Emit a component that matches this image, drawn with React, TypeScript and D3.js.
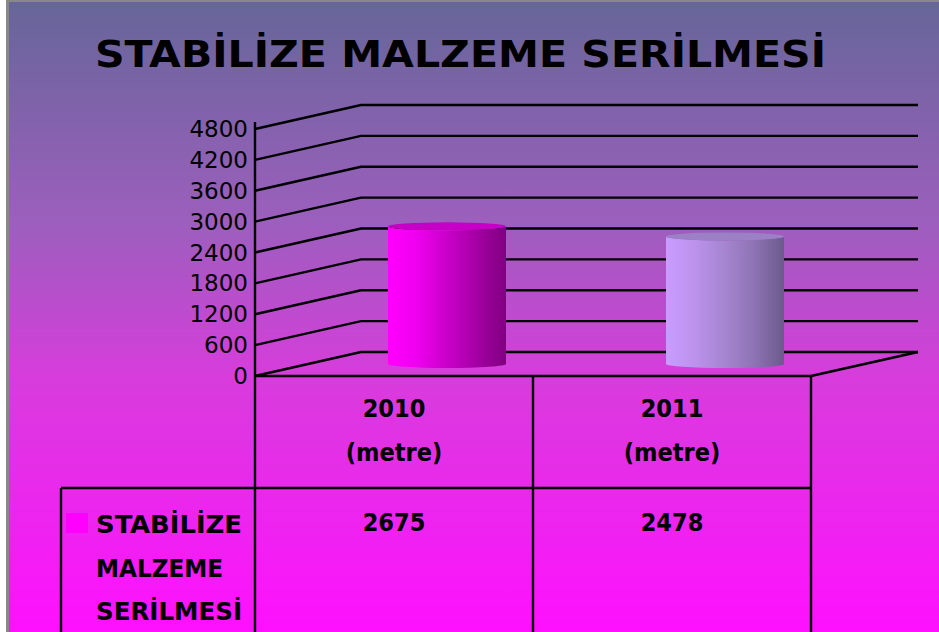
import React from "react";
import * as d3 from "d3";

// data
const categories = ["2010", "2011"];
const categoryUnits = ["(metre)", "(metre)"];
const seriesName = "STABİLİZE MALZEME SERİLMESİ";
const seriesLines = ["STABİLİZE", "MALZEME", "SERİLMESİ"];
const seriesLineWidths = [146, 127, 146];
const values = [2675, 2478];
const yTicks = [0, 600, 1200, 1800, 2400, 3000, 3600, 4200, 4800];

const W = 939;
const H = 632;
const FONT = "'Comic Sans MS', 'DejaVu Sans Condensed', 'DejaVu Sans', sans-serif";
const TICK_FONT = "'Comic Sans MS', 'DejaVu Sans', sans-serif";

// 3d box
const frontLeft = 255;
const frontRight = 811;
const depthX = 106;
const depthY = -24;

const cylColors = [
  ["#ff00ff", "#ee00ee", "#c900c9", "#a400a4", "#800080"],
  ["#c99cff", "#bb92ec", "#a585cf", "#8d73b3", "#6c5a8c"],
];
const cylTops = ["#c600c6", "#9c80c6"];

const App = () => {
  const y = d3.scaleLinear().domain([0, 4800]).range([376, 129]);
  const x = d3
    .scaleBand()
    .domain(categories)
    .range([frontLeft, frontRight])
    .paddingInner(0)
    .paddingOuter(0);

  const cylW = 118;
  const ry = 4;

  return (
    <svg width={W} height={H} style={{ position: "absolute", left: 0, top: 0 }}>
      <defs>
        <linearGradient id="bg" x1="0" y1="0" x2="0" y2="1">
          <stop offset="0" stopColor="#666699" />
          <stop offset="0.35" stopColor="#9c5fbd" />
          <stop offset="0.6" stopColor="#d83cdc" />
          <stop offset="1" stopColor="#ff10ff" />
        </linearGradient>
        {cylColors.map((cs, i) => (
          <linearGradient key={i} id={`cyl${i}`} x1="0" y1="0" x2="1" y2="0">
            {cs.map((c, j) => (
              <stop key={j} offset={j / (cs.length - 1)} stopColor={c} />
            ))}
          </linearGradient>
        ))}
      </defs>

      <rect x={0} y={0} width={W} height={H} fill="#ffffff" />
      <rect x={6} y={0} width={W - 6} height={H} fill="#888888" />
      <rect x={9} y={2} width={W - 9} height={H - 2} fill="url(#bg)" />

      <text
        x={95}
        y={67}
        fontFamily={FONT}
        fontWeight="bold"
        fontSize={37}
        textLength={731}
        lengthAdjust="spacingAndGlyphs"
        fill="#000"
      >
        {seriesName}
      </text>

      {/* gridlines: left wall diagonal + back wall */}
      <g stroke="#000" strokeWidth={2.4} fill="none">
        {yTicks.map((t) => (
          <polyline
            key={t}
            points={`${frontLeft},${y(t)} ${frontLeft + depthX},${y(t) + depthY} ${frontRight + depthX + 1},${y(t) + depthY}`}
          />
        ))}
        <line x1={frontLeft} y1={y(0)} x2={frontRight} y2={y(0)} />
        <line x1={frontRight} y1={y(0)} x2={frontRight + depthX + 1} y2={y(0) + depthY} />
        <line x1={frontLeft} y1={122} x2={frontLeft} y2={H} />
      </g>

      {yTicks.map((t) => (
        <text
          key={t}
          x={248}
          y={y(t) + 8}
          textAnchor="end"
          fontFamily={TICK_FONT}
          fontSize={23}
          fill="#000"
        >
          {t}
        </text>
      ))}

      {/* cylinders at mid depth */}
      {categories.map((c, i) => {
        const cx = (x(c) as number) + x.bandwidth() / 2 + depthX / 2;
        const base = y(0) + depthY / 2;
        const top = y(values[i]) + depthY / 2;
        const l = cx - cylW / 2;
        const r = cx + cylW / 2;
        const body = `M${l},${top} L${l},${base} A${cylW / 2},${ry} 0 0 0 ${r},${base} L${r},${top} A${cylW / 2},${ry} 0 0 1 ${l},${top} Z`;
        return (
          <g key={c}>
            <path d={body} fill={`url(#cyl${i})`} />
            <ellipse cx={cx} cy={top} rx={cylW / 2} ry={ry} fill={cylTops[i]} />
          </g>
        );
      })}

      {/* data table */}
      <g stroke="#000" strokeWidth={2.4} fill="none">
        <line x1={533} y1={376} x2={533} y2={H} />
        <line x1={frontRight} y1={376} x2={frontRight} y2={H} />
        <line x1={61} y1={488} x2={frontRight} y2={488} />
        <line x1={61} y1={488} x2={61} y2={H} />
      </g>

      {categories.map((c, i) => {
        const cx = (x(c) as number) + x.bandwidth() / 2;
        return (
          <g key={c} fontFamily={FONT} fontWeight="bold" fontSize={25} fill="#000" textAnchor="middle">
            <text x={cx} y={417}>{c}</text>
            <text x={cx} y={461}>{categoryUnits[i]}</text>
            <text x={cx} y={531}>{values[i]}</text>
          </g>
        );
      })}

      <rect x={66} y={513} width={22} height={20} fill="#ff00ff" />
      {seriesLines.map((s, i) => (
        <text
          key={s}
          x={96}
          y={533 + i * 43.5}
          fontFamily={FONT}
          fontWeight="bold"
          fontSize={25}
          textLength={seriesLineWidths[i]}
          lengthAdjust="spacingAndGlyphs"
          fill="#000"
        >
          {s}
        </text>
      ))}
    </svg>
  );
};

export default App;
